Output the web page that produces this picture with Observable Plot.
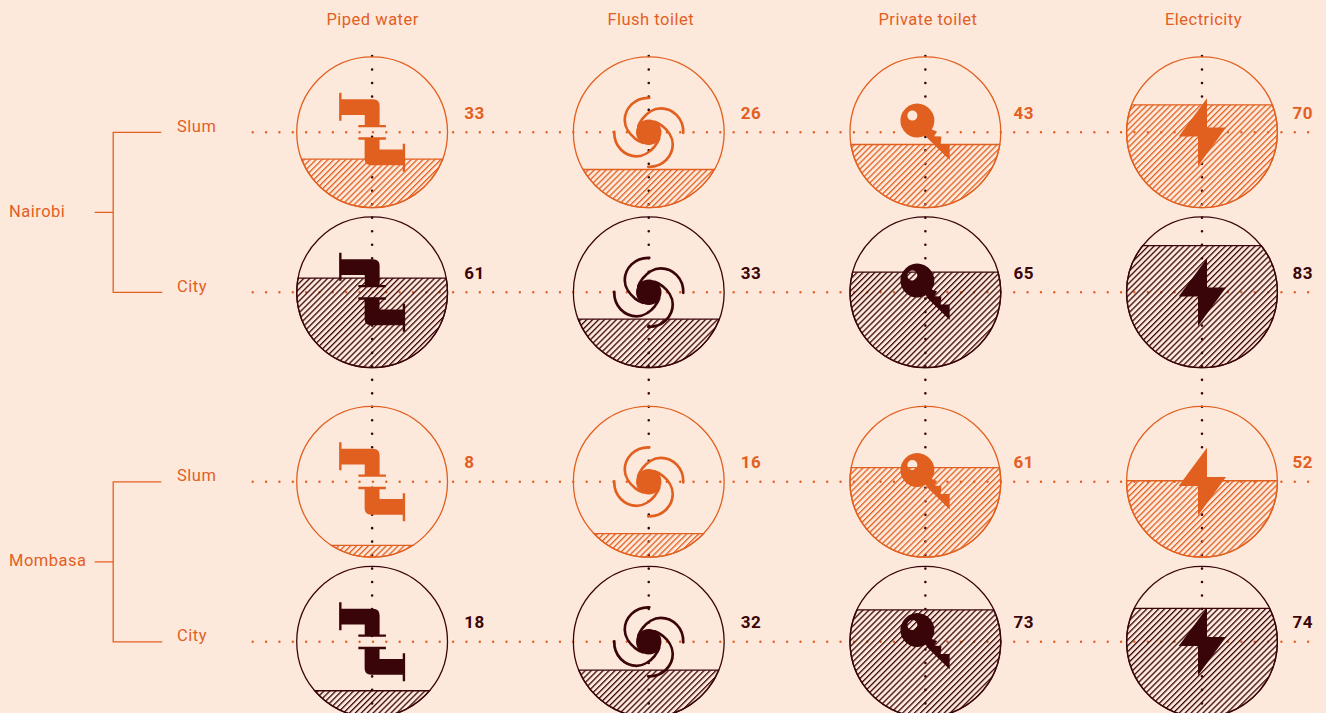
<!DOCTYPE html>
<html>
<head>
<meta charset="utf-8">
<script src="https://cdn.jsdelivr.net/npm/d3@7"></script>
<script src="https://cdn.jsdelivr.net/npm/@observablehq/plot@0.6"></script>
<style>
  html, body { margin: 0; padding: 0; background: #fde8dc; overflow: hidden; }
  svg { display: block; }
</style>
</head>
<body>
<div id="chart"></div>
<script>
// ---- data ----
const indicators = ["Piped water", "Flush toilet", "Private toilet", "Electricity"];
const cities = ["Nairobi", "Mombasa"];
const areas = ["Slum", "City"];
const nairobiSlum = [33, 26, 43, 70];
const nairobiCity = [61, 33, 65, 83];
const mombasaSlum = [8, 16, 61, 52];
const mombasaCity = [18, 32, 73, 74];

const table = [
  ["Nairobi", "Slum", nairobiSlum],
  ["Nairobi", "City", nairobiCity],
  ["Mombasa", "Slum", mombasaSlum],
  ["Mombasa", "City", mombasaCity]
].flatMap(([city, area, values]) =>
  values.map((value, i) => ({city, area, indicator: indicators[i], value})));
const rows = cities.flatMap((city) => areas.map((area) => ({city, area})));

// ---- styles ----
const ORANGE = "#e2601f";
const DARK = "#3a0508";
const BG = "#fde8dc";
const R = 75.4;
const FONT = "Roboto, sans-serif";
const colour = (area) => (area === "Slum" ? ORANGE : DARK);

// ---- glyphs, drawn around each cell's centre ----
const segment = (value) => ({
  draw(c) {
    const y = R - 1.47 * value;
    const a = Math.asin(y / R);
    c.moveTo(-R * Math.cos(a), y);
    c.lineTo(R * Math.cos(a), y);
    c.arc(0, 0, R, a, Math.PI - a, false);
    c.closePath();
  }
});
const poly = (c, pts) => {
  pts.forEach(([x, y], i) => (i ? c.lineTo(x, y) : c.moveTo(x, y)));
  c.closePath();
};
const pipeHalf = (c, s) => {
  const P = (x, y) => [s * x, s * y];
  c.moveTo(...P(-33, -39.5));
  c.lineTo(...P(-30.6, -39.5));
  c.lineTo(...P(-30.6, -33));
  c.lineTo(...P(1, -33));
  c.quadraticCurveTo(...P(7.5, -33), ...P(7.5, -26.5));
  c.lineTo(...P(7.5, -7.4));
  c.lineTo(...P(13.8, -7.4));
  c.lineTo(...P(13.8, -5));
  c.lineTo(...P(-13.8, -5));
  c.lineTo(...P(-13.8, -7.4));
  c.lineTo(...P(-7.4, -7.4));
  c.lineTo(...P(-7.4, -17.3));
  c.lineTo(...P(-30.6, -17.3));
  c.lineTo(...P(-30.6, -11.5));
  c.lineTo(...P(-33, -11.5));
  c.closePath();
};
const pipeIcon = {draw(c) { pipeHalf(c, 1); pipeHalf(c, -1); }};
const fanArms = {
  draw(c) {
    [[1, 0, 0, 1], [0, 1, -1, 0], [-1, 0, 0, -1], [0, -1, 1, 0]].forEach(([a, b, d, e]) => {
      const P = (x, y) => [a * x + b * y, d * x + e * y];
      c.moveTo(...P(0.5, -34.5));
      c.bezierCurveTo(...P(-14, -35), ...P(-24, -24), ...P(-24, -12));
      c.bezierCurveTo(...P(-24, -5), ...P(-19, 2), ...P(-14, 6));
      c.bezierCurveTo(...P(-12, 7.5), ...P(-9, 9.5), ...P(-6, 10.5));
    });
  }
};
const fanHub = {draw(c) { c.moveTo(12.7, 0); c.arc(0, 0, 12.7, 0, 2 * Math.PI); c.closePath(); }};
const keyIcon = {
  draw(c) {
    const hx = -8, hy = -11.7, hr = 17;
    const a0 = Math.atan2(7.7, 12.3), a1 = Math.atan2(16.7, 9.7);
    c.moveTo(hx + hr * Math.cos(a0), hy + hr * Math.sin(a0));
    c.arc(hx, hy, hr, a0, a1, true);
    [[1.7, 5.5], [24.3, 27.7], [24.3, 12.3], [15.3, 12.3], [16, 4.3], [8.7, 4], [11.7, -0.7]]
      .forEach(([x, y]) => c.lineTo(x, y));
    c.closePath();
    c.moveTo(-8, -16.7);
    c.arc(-13, -16.7, 5, 0, 2 * Math.PI, false);
    c.closePath();
  }
};
const boltIcon = {
  draw(c) {
    poly(c, [[5, -34], [-23.3, 4.3], [-4, 4.3], [-4, 33.7], [24, -4.7], [5, -4.7]]);
  }
};
const icons = {
  "Piped water": [pipeIcon],
  "Flush toilet": [fanHub],
  "Private toilet": [keyIcon],
  "Electricity": [boltIcon]
};
const bracket = {
  draw(c) {
    c.moveTo(65.7, 0); c.lineTo(17.7, 0); c.lineTo(17.7, 160); c.lineTo(66.7, 160);
    c.moveTo(17.7, 80); c.lineTo(-0.8, 80);
  }
};

// ---- hatch patterns ----
const HATCH = 4.2;
const defs = () => {
  const ns = "http://www.w3.org/2000/svg";
  const d = document.createElementNS(ns, "defs");
  [["hatch-Slum", ORANGE], ["hatch-City", DARK]].forEach(([id, col]) => {
    const p = document.createElementNS(ns, "pattern");
    p.setAttribute("id", id);
    p.setAttribute("patternUnits", "userSpaceOnUse");
    p.setAttribute("width", HATCH);
    p.setAttribute("height", HATCH);
    p.setAttribute("patternTransform", "rotate(45)");
    const l = document.createElementNS(ns, "line");
    l.setAttribute("x1", 0.65); l.setAttribute("x2", 0.65);
    l.setAttribute("y1", 0); l.setAttribute("y2", HATCH);
    l.setAttribute("stroke", col);
    l.setAttribute("stroke-width", 1.3);
    p.appendChild(l);
    d.appendChild(p);
  });
  return d;
};

const at = {x: "indicator", y: "area", fy: "city"};
const dot = (data, symbol, opts) =>
  Plot.dot(data, {...at, symbol, r: 4, ...opts});

const labelStyle = {fontFamily: FONT, fontSize: 16.5, fill: ORANGE, lineAnchor: "middle"};
const vDots = {x: (d) => d, stroke: DARK, strokeWidth: 2.6, strokeLinecap: "round", strokeDasharray: "0 13.48"};

// small horizontal nudges of the text per column
const headerShift = {"Piped water": 0.5, "Flush toilet": 2, "Private toilet": 2.5, "Electricity": 1.5};
const valueShift = {"Piped water": 92, "Flush toilet": 92, "Private toilet": 88, "Electricity": 90.5};

const chart = Plot.plot({
  width: 1326,
  height: 713,
  margin: 0,
  style: {background: BG, letterSpacing: "0.5px"},
  x: {type: "point", domain: ["group", ...indicators], range: [95, 1201.5], padding: 0, axis: null, round: false},
  y: {type: "point", domain: areas, range: [131.8, 291.8], padding: 0, axis: null, round: false},
  fy: {domain: cities, range: [0, 699], padding: 0, axis: null, round: false},
  marks: [
    defs,
    // dotted guides
    Plot.ruleX(indicators, {...vDots, fy: () => "Nairobi", insetTop: 56}),
    Plot.ruleX(indicators, {...vDots, fy: () => "Mombasa", insetTop: 3.4, insetBottom: -14}),
    Plot.ruleY(rows, {
      y: "area", fy: "city", stroke: ORANGE, strokeWidth: 2.4,
      strokeLinecap: "round", strokeDasharray: "0 13.36", insetLeft: 252.7, insetRight: 16
    }),
    // hatched level and outline
    ...table.map((d) =>
      dot([d], segment(d.value), {fill: `url(#hatch-${d.area})`, stroke: colour(d.area), strokeWidth: 1.3})),
    ...areas.map((area) =>
      Plot.dot(table.filter((d) => d.area === area), {...at, r: R, fill: "none", stroke: colour(area), strokeWidth: 1.3})),
    // icons
    ...table.flatMap((d) => icons[d.indicator].map((g) =>
      dot([d], g, {fill: colour(d.area), stroke: "none"}))),
    ...table.filter((d) => d.indicator === "Flush toilet").map((d) =>
      dot([d], fanArms, {fill: "none", stroke: colour(d.area), strokeWidth: 2.7, strokeLinecap: "round"})),
    // values
    ...areas.flatMap((area) => indicators.map((indicator) =>
      Plot.text(table.filter((d) => d.area === area && d.indicator === indicator), {
        ...at, text: (d) => String(d.value), dx: valueShift[indicator], dy: -19, textAnchor: "start",
        fontFamily: FONT, fontWeight: 700, fontSize: 17, lineAnchor: "middle", fill: colour(area)
      }))),
    // column headers
    ...indicators.map((indicator) =>
      Plot.text([indicator], {
        x: (d) => d, y: () => "Slum", fy: () => "Nairobi", text: (d) => d,
        dx: headerShift[indicator], dy: -112.5, ...labelStyle
      })),
    // row and group labels
    Plot.text(rows, {
      x: () => "group", y: "area", fy: "city", text: "area",
      dx: 81.5, dy: -6, textAnchor: "start", ...labelStyle
    }),
    dot(cities.map((city) => ({city})), bracket, {
      x: () => "group", y: () => "Slum", fy: "city", fill: "none", stroke: ORANGE, strokeWidth: 1.3
    }),
    Plot.text(cities, {
      x: () => "group", y: () => "Slum", fy: (d) => d, text: (d) => d,
      dx: -86.5, dy: 79, textAnchor: "start", ...labelStyle
    })
  ]
});
document.getElementById("chart").appendChild(chart);
</script>
</body>
</html>
